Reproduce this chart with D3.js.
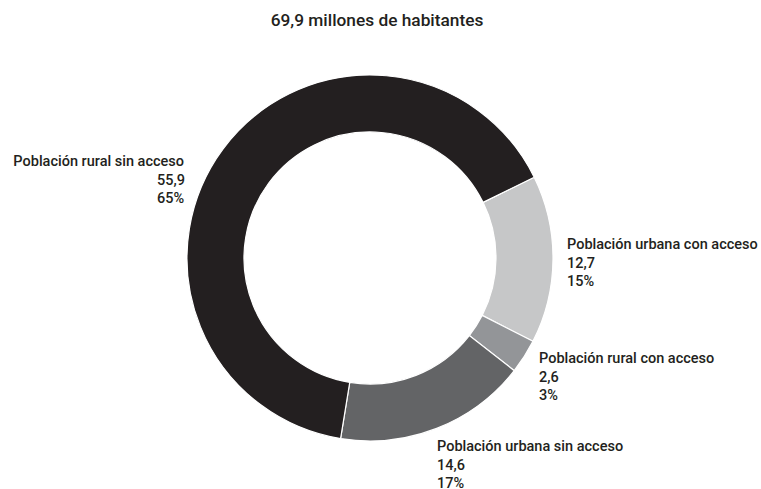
<!DOCTYPE html>
<html><head><meta charset="utf-8">
<script src="https://cdn.jsdelivr.net/npm/d3@7"></script>
<style>
html,body{margin:0;padding:0;background:#fff;}
text{font-family:"Roboto","Liberation Sans",sans-serif;font-weight:500;fill:#231f20;}
</style></head>
<body><svg id="c" width="761" height="489"></svg>
<script>
const title = "69,9 millones de habitantes";
const categories = ["Población urbana con acceso","Población rural con acceso","Población urbana sin acceso","Población rural sin acceso"];
const values = [12.7, 2.6, 14.6, 55.9];
const valueLabels = ["12,7","2,6","14,6","55,9"];
const percentLabels = ["15%","3%","17%","65%"];
const colors = ["#c6c7c8","#939598","#636466","#231f20"];

const W=761,H=489, cx=370, cy=258, rOut=183, rIn=126;
const svg=d3.select("#c");
svg.append("text").attr("x",377).attr("y",26).attr("text-anchor","middle")
  .style("font-size","17.3px").text(title);

const data = categories.map((c,i)=>({cat:c,value:values[i],vl:valueLabels[i],pl:percentLabels[i],color:colors[i]}));
const start = 63.8*Math.PI/180;
const pie = d3.pie().sort(null).value(d=>d.value).startAngle(start).endAngle(start+2*Math.PI);
const arc = d3.arc().innerRadius(rIn).outerRadius(rOut);
const g = svg.append("g").attr("transform",`translate(${cx},${cy})`);
g.selectAll("path").data(pie(data)).join("path")
  .attr("d",arc).attr("fill",d=>d.data.color)
  .attr("stroke","#fff").attr("stroke-width",1.2);

// label layout relative to chart center: [dx, dy, anchor, dx for lines 2-3]
const labelLayout = [[197,-9,"start",197],[169,105,"start",169],[67,193,"start",67],[-186,-92,"end",-213]];
const lh = 18.7;
pie(data).forEach((d,i)=>{
  const [lx,ly,anch,lx2]=labelLayout[i];
  const t = g.append("text").style("font-size","14.5px");
  t.append("tspan").attr("x",lx).attr("y",ly).attr("text-anchor",anch).text(d.data.cat);
  t.append("tspan").attr("x",lx2).attr("y",ly+lh).attr("text-anchor","start").text(d.data.vl);
  t.append("tspan").attr("x",lx2).attr("y",ly+2*lh).attr("text-anchor","start").text(d.data.pl);
});
</script></body></html>
